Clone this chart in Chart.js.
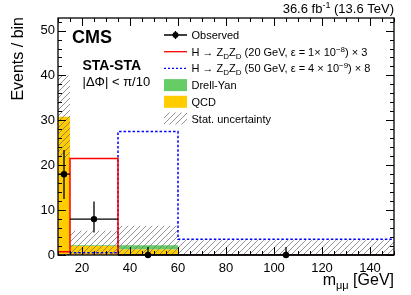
<!DOCTYPE html>
<html>
<head>
<meta charset="utf-8">
<script src="https://cdn.jsdelivr.net/npm/chart.js@4.4.1/dist/chart.umd.min.js"></script>
<style>
  html, body { margin: 0; padding: 0; background: #fff; }
</style>
</head>
<body>
<canvas id="chart" width="411" height="295"></canvas>
<script>
// bin edges, m_mumu [GeV]
const binEdges = [10, 15, 35, 60, 150];

// stacked backgrounds, events per bin
const qcd = [30.8, 2.0, 1.3, 0];
const drellYan = [0, 0.2, 0.9, 0];

// stat. uncertainty band
const statLow = [21.6, 0, 0, 0];
const statHigh = [40, 5.4, 6.5, 3.3];

// signals (already scaled)
const signal20 = [0.7, 21.5, 0, 0];
const signal50 = [0, 0.5, 27.5, 3.5];

// observed
const obsX = [12.5, 25, 47.5, 105];
const obsY = [18, 8, 0, 0];
const obsYLow = [12.5, 5.0, 0, 0];
const obsYHigh = [23.4, 11.9, 1.8, 1.8];
const obsXLow = [10, 15, 35, 60];
const obsXHigh = [15, 35, 60, 150];

const xTicks = [20, 40, 60, 80, 100, 120, 140];
const yTicks = [0, 10, 20, 30, 40, 50];

const FONT = "'Liberation Sans', Arial, Helvetica, sans-serif";
const YELLOW = '#ffcc00';
const GREEN = '#66cc66';

function steps(vals) {
  const pts = vals.map((v, i) => ({ x: binEdges[i], y: v }));
  pts.push({ x: binEdges[binEdges.length - 1], y: vals[vals.length - 1] });
  return pts;
}

const canvas = document.getElementById('chart');
const ctx0 = canvas.getContext('2d');

function makeHatch() {
  const c = document.createElement('canvas');
  c.width = 6; c.height = 6;
  const g = c.getContext('2d');
  g.strokeStyle = '#777';
  g.lineWidth = 0.8;
  g.beginPath();
  g.moveTo(0, 6); g.lineTo(6, 0);
  g.moveTo(-1, 1); g.lineTo(1, -1);
  g.moveTo(5, 7); g.lineTo(7, 5);
  g.stroke();
  return ctx0.createPattern(c, 'repeat');
}
const hatch = makeHatch();

const dyTop = qcd.map((v, i) => v + drellYan[i]);

// text with sub/superscripts
function rich(ctx, parts, x, y, size, align, bold) {
  const fontOf = (k) => (bold ? 'bold ' : '') + (k ? Math.round(size * 0.7) : size) + 'px ' + FONT;
  let w = 0;
  parts.forEach(([t, k]) => { ctx.font = fontOf(k); w += ctx.measureText(t).width; });
  let cx = align === 'right' ? x - w : x;
  ctx.textAlign = 'left';
  parts.forEach(([t, k]) => {
    ctx.font = fontOf(k);
    const dy = k === 'sub' ? size * 0.28 : k === 'sup' ? -size * 0.38 : 0;
    ctx.fillText(t, cx, y + dy);
    cx += ctx.measureText(t).width;
  });
}

const decorations = {
  id: 'decorations',
  beforeDatasetDraw(chart, args) {
    if (args.index !== 0) return;
    const { ctx, chartArea: a, scales: { x, y } } = chart;
    ctx.save();
    ctx.strokeStyle = '#000';
    ctx.lineWidth = 1;
    ctx.beginPath();
    for (let v = 10; v <= 150; v += 5) {
      const px = Math.round(x.getPixelForValue(v)) + 0.5;
      const len = v % 20 === 0 ? 8 : 4;
      ctx.moveTo(px, a.bottom); ctx.lineTo(px, a.bottom - len);
      ctx.moveTo(px, a.top); ctx.lineTo(px, a.top + len);
    }
    for (let v = 0; v <= 52; v += 2) {
      const py = Math.round(y.getPixelForValue(v)) + 0.5;
      const len = v % 10 === 0 ? 8 : 4;
      ctx.moveTo(a.left, py); ctx.lineTo(a.left + len, py);
      ctx.moveTo(a.right, py); ctx.lineTo(a.right - len, py);
    }
    ctx.stroke();
    ctx.lineWidth = 1.3;
    ctx.strokeRect(a.left, a.top, a.right - a.left, a.bottom - a.top);

    // error bars
    ctx.lineWidth = 1.3;
    ctx.beginPath();
    obsX.forEach((vx, i) => {
      const px = x.getPixelForValue(vx), py = y.getPixelForValue(obsY[i]);
      ctx.moveTo(x.getPixelForValue(obsXLow[i]), py);
      ctx.lineTo(x.getPixelForValue(obsXHigh[i]), py);
      ctx.moveTo(px, y.getPixelForValue(obsYLow[i]));
      ctx.lineTo(px, y.getPixelForValue(obsYHigh[i]));
    });
    ctx.stroke();

    // texts
    ctx.fillStyle = '#000';
    ctx.textBaseline = 'alphabetic';
    rich(ctx, [['36.6 fb', ''], ['-1', 'sup'], [' (13.6 TeV)', '']], a.right, 13, 13, 'right');
    rich(ctx, [['m', ''], ['\u03bc\u03bc', 'sub'], [' [GeV]', '']], a.right, 285, 16, 'right');
    ctx.save();
    ctx.translate(23, 17);
    ctx.rotate(-Math.PI / 2);
    ctx.font = '16px ' + FONT;
    ctx.textAlign = 'right';
    ctx.fillText('Events / bin', 0, 0);
    ctx.restore();

    ctx.textAlign = 'left';
    ctx.font = 'bold 18px ' + FONT;
    ctx.fillText('CMS', 72, 43);
    ctx.font = 'bold 14px ' + FONT;
    ctx.fillText('STA-STA', 82.5, 70);
    ctx.font = '13px ' + FONT;
    ctx.fillText('|\u0394\u03a6| < \u03c0/10', 82.5, 86);

    // legend
    const lx0 = 164, lx1 = 187, tx = 191.5, row = 16.7, y0 = 35;
    const fs = 11;
    const rows = [
      [['Observed', '']],
      [['H \u2192 Z', ''], ['D', 'sub'], ['Z', ''], ['D', 'sub'], [' (20 GeV, \u03b5 = 1\u00d7 10', ''], ['\u22128', 'sup'], [') \u00d7 3', '']],
      [['H \u2192 Z', ''], ['D', 'sub'], ['Z', ''], ['D', 'sub'], [' (50 GeV, \u03b5 = 4 \u00d7 10', ''], ['\u22129', 'sup'], [') \u00d7 8', '']],
      [['Drell-Yan', '']],
      [['QCD', '']],
      [['Stat. uncertainty', '']]
    ];
    rows.forEach((parts, i) => {
      const cy = y0 + i * row;
      ctx.fillStyle = '#000';
      rich(ctx, parts, tx, cy + 4, fs, 'left');
      if (i === 0) {
        ctx.strokeStyle = '#000'; ctx.lineWidth = 1.3; ctx.setLineDash([]);
        ctx.beginPath();
        ctx.moveTo(lx0, cy); ctx.lineTo(lx1, cy);
        ctx.moveTo((lx0 + lx1) / 2, cy - 4); ctx.lineTo((lx0 + lx1) / 2, cy + 4);
        ctx.stroke();
        ctx.beginPath(); ctx.arc((lx0 + lx1) / 2, cy, 3, 0, 2 * Math.PI); ctx.fill();
      } else if (i === 1 || i === 2) {
        ctx.strokeStyle = i === 1 ? '#ff0000' : '#0000ff';
        ctx.lineWidth = 1.3;
        ctx.setLineDash(i === 2 ? [2, 2] : []);
        ctx.beginPath(); ctx.moveTo(lx0, cy); ctx.lineTo(lx1, cy); ctx.stroke();
        ctx.setLineDash([]);
      } else {
        ctx.fillStyle = i === 3 ? GREEN : i === 4 ? YELLOW : hatch;
        ctx.fillRect(lx0, cy - 6, lx1 - lx0, 12);
      }
    });
    ctx.restore();
  }
};

new Chart(canvas, {
  type: 'line',
  data: {
    datasets: [
      {
        label: 'Observed',
        data: obsX.map((vx, i) => ({ x: vx, y: obsY[i] })),
        showLine: false,
        pointRadius: 3.2,
        pointBackgroundColor: '#000',
        pointBorderWidth: 0,
        clip: false
      },
      {
        label: 'signal20',
        data: steps(signal20),
        stepped: true,
        borderColor: '#ff0000',
        borderWidth: 1.5,
        pointRadius: 0,
        fill: false
      },
      {
        label: 'signal50',
        data: steps(signal50),
        stepped: true,
        borderColor: '#0000ff',
        borderDash: [2.5, 2],
        borderWidth: 1.5,
        pointRadius: 0,
        fill: false
      },
      {
        label: 'statHigh',
        data: steps(statHigh),
        stepped: true,
        borderWidth: 0,
        borderColor: 'rgba(0,0,0,0)',
        backgroundColor: hatch,
        pointRadius: 0,
        fill: '+1'
      },
      {
        label: 'statLow',
        data: steps(statLow),
        stepped: true,
        borderWidth: 0,
        borderColor: 'rgba(0,0,0,0)',
        pointRadius: 0,
        fill: false
      },
      {
        label: 'Drell-Yan',
        data: steps(dyTop),
        stepped: true,
        borderWidth: 0,
        borderColor: 'rgba(0,0,0,0)',
        backgroundColor: GREEN,
        pointRadius: 0,
        fill: '+1'
      },
      {
        label: 'QCD',
        data: steps(qcd),
        stepped: true,
        borderWidth: 0,
        borderColor: 'rgba(0,0,0,0)',
        backgroundColor: YELLOW,
        pointRadius: 0,
        fill: 'origin'
      }
    ]
  },
  options: {
    responsive: false,
    animation: false,
    devicePixelRatio: 1,
    layout: { padding: { top: 18, right: 17, left: 0, bottom: 0 } },
    plugins: { legend: { display: false }, tooltip: { enabled: false } },
    scales: {
      x: {
        type: 'linear',
        min: 10,
        max: 150,
        grid: { display: false, drawTicks: false },
        border: { display: false },
        ticks: { color: '#000', padding: 6, font: { family: FONT, size: 13 } },
        afterBuildTicks: (s) => { s.ticks = xTicks.map(v => ({ value: v })); },
        afterFit: (s) => { s.height = 40; }
      },
      y: {
        min: 0,
        max: 52.8,
        grid: { display: false, drawTicks: false },
        border: { display: false },
        ticks: { color: '#000', padding: 3, font: { family: FONT, size: 13 } },
        afterBuildTicks: (s) => { s.ticks = yTicks.map(v => ({ value: v })); },
        afterFit: (s) => { s.width = 58; }
      }
    }
  },
  plugins: [decorations]
});
</script>
</body>
</html>
